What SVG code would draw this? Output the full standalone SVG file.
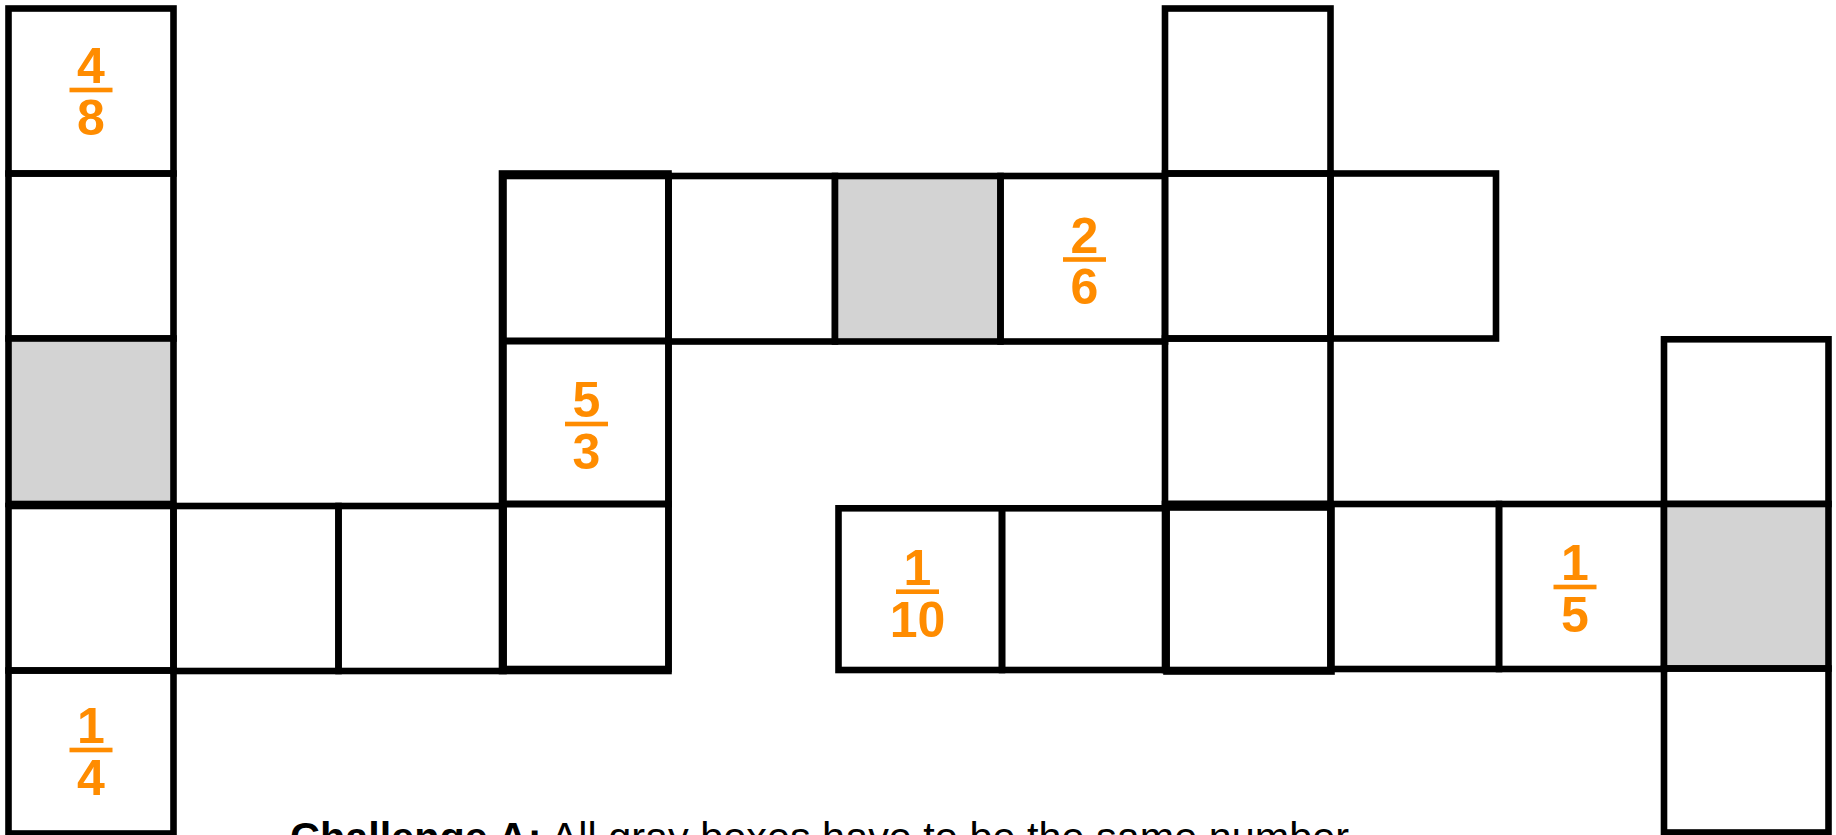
<svg xmlns="http://www.w3.org/2000/svg" width="1836" height="835" viewBox="0 0 1836 835">
<style>
.c{fill:none;stroke:#000;stroke-width:6.6}
.g{fill:#d3d3d3;stroke:#000;stroke-width:6.6}
.o{fill:none;stroke:#000;stroke-width:6.6}
.n{font-family:"Liberation Sans",Arial,sans-serif;font-weight:bold;font-size:50px;fill:#FF8C00;text-anchor:middle}
.b{fill:#FF8C00}
.t{font-family:"Liberation Sans",Arial,sans-serif;font-size:41.4px;fill:#000}
</style>
<rect x="0" y="0" width="1836" height="835" fill="#fff"/>
<g id="cells">
<g id="c0r0"><rect class="c" x="8.5" y="8.5" width="165" height="165"/>
<text class="n" x="91" y="83">4</text><rect class="b" x="69.5" y="87.7" width="43" height="4.6"/><text class="n" x="91" y="134.5">8</text></g>
<g id="c0r1"><rect class="c" x="8.5" y="173.5" width="165" height="165"/></g>
<g id="c0r2"><rect class="g" x="8.5" y="338.5" width="165" height="165.5"/></g>
<g id="c0r3"><rect class="c" x="8.5" y="506" width="165" height="164.5"/></g>
<g id="c0r4"><rect class="c" x="8.5" y="670.5" width="165" height="163"/>
<text class="n" x="91" y="743">1</text><rect class="b" x="69.5" y="747.7" width="43" height="4.6"/><text class="n" x="91" y="794.5">4</text></g>
<g id="c1r3"><rect class="c" x="173.5" y="506" width="165" height="165"/></g>
<g id="c2r3"><rect class="c" x="338.5" y="506" width="165" height="165"/></g>
<g id="c3r1"><rect class="c" x="503.5" y="176" width="165" height="165"/></g>
<g id="c3r2"><rect class="c" x="503.5" y="341" width="165" height="163"/>
<text class="n" x="586.5" y="417">5</text><rect class="b" x="565" y="421.7" width="43" height="4.6"/><text class="n" x="586.5" y="468.5">3</text></g>
<g id="c3r3"><rect class="c" x="503.5" y="504" width="165" height="165"/></g>
<rect class="o" x="502" y="173.5" width="166.5" height="497.5"/>
<g id="c4r1"><rect class="c" x="668.5" y="176" width="166.5" height="165.5"/></g>
<g id="c5r1"><rect class="g" x="835" y="176" width="165.5" height="165.5"/></g>
<g id="c6r1"><rect class="c" x="1000.5" y="176" width="164.5" height="165.5"/>
<text class="n" x="1084.5" y="252.5">2</text><rect class="b" x="1063" y="257.2" width="43" height="4.6"/><text class="n" x="1084.5" y="304">6</text></g>
<g id="c7r0"><rect class="c" x="1165" y="8.5" width="165.5" height="165"/></g>
<g id="c7r1"><rect class="c" x="1165" y="173.5" width="165.5" height="165"/></g>
<g id="c8r1"><rect class="c" x="1330.5" y="173.5" width="165.5" height="165"/></g>
<g id="c7r2"><rect class="c" x="1165" y="338.5" width="165.5" height="165.5"/></g>
<g id="c5r3"><rect class="c" x="838.5" y="508.3" width="163.5" height="161.7"/>
<text class="n" x="917.5" y="585">1</text><rect class="b" x="896" y="589.4" width="43" height="4.6"/><text class="n" x="917.5" y="636.5">10</text></g>
<g id="c6r3"><rect class="c" x="1002" y="508.3" width="164.5" height="161.7"/></g>
<g id="c7r3"><rect class="c" x="1165" y="504" width="165.5" height="166"/>
<rect class="o" x="1166.5" y="507.5" width="165" height="164"/></g>
<g id="c8r3"><rect class="c" x="1330.5" y="504" width="168.5" height="165"/></g>
<g id="c9r3"><rect class="c" x="1499" y="504" width="165" height="165"/>
<text class="n" x="1575" y="580">1</text><rect class="b" x="1553.5" y="584.7" width="43" height="4.6"/><text class="n" x="1575" y="631.5">5</text></g>
<g id="c10r2"><rect class="c" x="1664" y="339.3" width="164.5" height="164.7"/></g>
<g id="c10r3"><rect class="g" x="1664" y="504" width="164.5" height="164.5"/></g>
<g id="c10r4"><rect class="c" x="1664" y="668.5" width="164.5" height="164"/></g>
</g>
<g id="caption"><text class="t" x="290" y="851"><tspan font-weight="bold">Challenge A:</tspan> All gray boxes have to be the same number.</text></g>
</svg>
